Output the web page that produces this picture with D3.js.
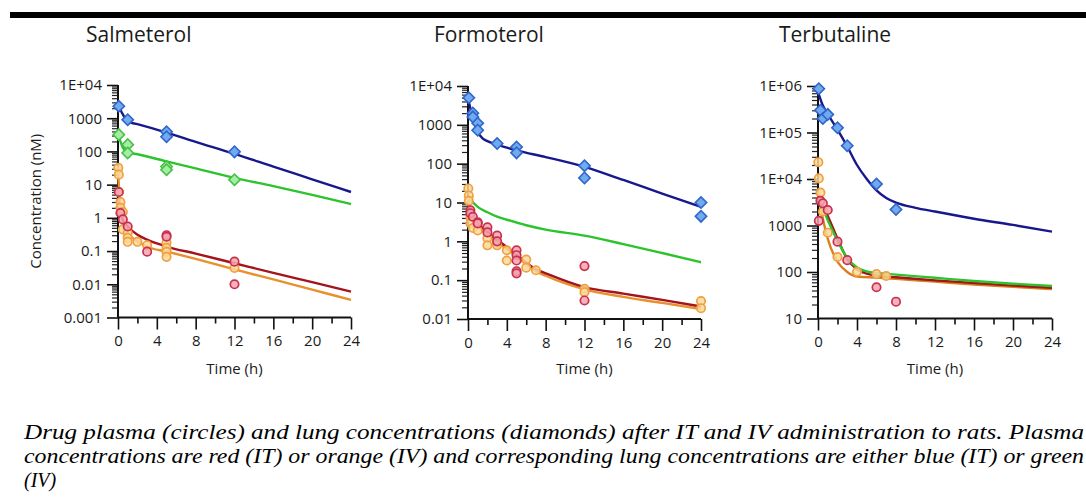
<!DOCTYPE html>
<html>
<head>
<meta charset="utf-8">
<script src="https://cdn.jsdelivr.net/npm/d3@7"></script>
<style>
  html, body { margin: 0; padding: 0; background: #ffffff; }
  svg { display: block; }
</style>
</head>
<body>
<svg id="chart" width="1086" height="497"></svg>
<script>
// ---------------- DATA ----------------
const panelTitles = ["Salmeterol", "Formoterol", "Terbutaline"];
const xTickValues = [0, 4, 8, 12, 16, 20, 24];
const xMinorTickValues = [2, 6, 10, 14, 18, 22];

const salYTicks = [1e4, 1000, 100, 10, 1, 0.1, 0.01, 0.001];
const salYLabels = ["1E+04", "1000", "100", "10", "1", "0.1", "0.01", "0.001"];
const forYTicks = [1e4, 1000, 100, 10, 1, 0.1, 0.01];
const forYLabels = ["1E+04", "1000", "100", "10", "1", "0.1", "0.01"];
const terYTicks = [1e6, 1e5, 1e4, 1000, 100, 10];
const terYLabels = ["1E+06", "1E+05", "1E+04", "1000", "100", "10"];

// Salmeterol observations [time h, conc nM]
const salLungIT = [[0.083,2300],[1,900],[5,390],[5,275],[12,97]];
const salLungIV = [[0.083,320],[1,160],[1,90],[5,35],[5,28],[12,14]];
const salPlasmaIT = [[0.083,6],[0.25,1.4],[0.5,0.9],[1,0.55],[3,0.096],[5,0.3],[5,0.27],[12,0.048],[12,0.01]];
const salPlasmaIV = [[0.033,32],[0.083,20],[0.083,6],[0.25,3],[0.25,2],[0.5,1.5],[0.5,0.45],[1,0.35],[1,0.25],[1,0.19],
  [2,0.19],[3,0.15],[5,0.18],[5,0.125],[5,0.095],[5,0.067],[12,0.031]];
// Salmeterol model fits
const salLungITFit = [[0,2500],[0.5,1300],[1,790],[2,660],[5,370],[8,195],[12,85],[16,35],[20,14.5],[24,6]];
const salLungIVFit = [[0,320],[0.25,200],[0.5,130],[1,93],[2,82],[5,50],[8,31],[12,16],[16,9],[20,4.9],[24,2.6]];
const salPlasmaITFit = [[0,4],[0.25,1.6],[0.5,0.85],[1,0.55],[2,0.31],[3,0.22],[5,0.137],[8,0.084],[12,0.043],[16,0.022],[20,0.0116],[24,0.006]];
const salPlasmaIVFit = [[0,35],[0.1,8],[0.25,2.2],[0.5,0.75],[1,0.36],[2,0.2],[3,0.135],[5,0.097],[8,0.058],[12,0.028],[16,0.014],[20,0.0069],[24,0.0034]];

// Formoterol observations
const forLungIT = [[0.083,5000],[0.5,2000],[0.5,1600],[1,1100],[1,730],[3,330],[5,270],[5,190],[12,88],[12,43],[24,10],[24,4.4]];
const forLungIV = [];
const forPlasmaIT = [[0.25,6.3],[0.25,5.3],[0.5,4.3],[1,3.1],[1,2.9],[2,2.3],[2,1.7],[3,1.4],[3,1.0],[5,0.59],[5,0.44],[5,0.32],[5,0.17],[5,0.15],[12,0.23],[12,0.03]];
const forPlasmaIV = [[0.033,23],[0.083,15],[0.083,11],[0.25,4.2],[0.25,2.9],[0.5,2.2],[1,1.9],[2,1.2],[2,0.79],[3,0.87],[3,0.79],
  [4,0.59],[4,0.32],[6,0.34],[6,0.21],[7,0.18],[12,0.06],[12,0.049],[24,0.029],[24,0.019]];
// Formoterol model fits
const forLungITFit = [[0,5000],[0.25,2600],[0.5,1500],[1,650],[1.5,450],[2,380],[3,310],[5,220],[8,148],[12,83],[16,38],[20,17],[24,7.7]];
const forLungIVFit = [[0,13],[0.5,10],[1,7.7],[2,5.6],[3,4.3],[4,3.6],[6,2.6],[8,2],[12,1.4],[16,0.85],[20,0.5],[24,0.29]];
const forPlasmaITFit = [[0,7],[0.5,4],[1,2.9],[2,1.74],[3,1.1],[4,0.71],[5,0.45],[7,0.19],[8,0.15],[12,0.066],[16,0.045],[20,0.031],[24,0.021]];
const forPlasmaIVFit = [[0,12],[0.5,3.5],[1,2.5],[2,1.5],[3,0.95],[4,0.63],[5,0.4],[7,0.17],[8,0.13],[12,0.058],[16,0.037],[20,0.026],[24,0.018]];

// Terbutaline observations
const terLungIT = [[0.083,870000],[0.25,300000],[0.5,200000],[1,245000],[2,126000],[3,52000],[6,7800],[8,2200]];
const terLungIV = [];
const terPlasmaIT = [[0.083,1260],[0.25,3400],[0.5,3000],[1,2150],[2,450],[3,180],[6,47],[8,23]];
const terPlasmaIV = [[0.033,23000],[0.083,10300],[0.25,5100],[0.5,2000],[1,700],[2,210],[4,101],[6,90],[7,82]];
// Terbutaline model fits
const terLungITFit = [[0,750000],[0.5,380000],[1,250000],[2,115000],[3,50000],[4,20000],[5,10000],[6,5700],[7,3900],[8,3100],[10,2400],[12,2000],[16,1400],[20,1030],[24,740]];
const terLungIVFit = [[0,3000],[0.5,2300],[1,1300],[2,470],[3,200],[4,125],[5,103],[6,95],[8,88],[12,75],[16,64],[20,56],[24,50]];
const terPlasmaITFit = [[0,3200],[0.5,2600],[1,1600],[2,520],[3,190],[4,115],[5,92],[6,83],[8,77],[12,66],[16,58],[20,51],[24,46]];
const terPlasmaIVFit = [[0,5400],[0.5,1400],[1,520],[2,166],[3,100],[4,80],[6,76],[8,71],[12,62],[16,54],[20,48],[24,43]];

const captionLines = [
  "Drug plasma (circles) and lung concentrations (diamonds) after IT and IV administration to rats. Plasma",
  "concentrations are red (IT) or orange (IV) and corresponding lung concentrations are either blue (IT) or green",
  "(IV)"
];

// ---------------- STYLE / LAYOUT ----------------
const C = {
  blueLine: "#16188c", greenLine: "#2cc42c", redLine: "#a3141c", orangeLine: "#e8902c",
  blueFill: "#72aaf0", blueStroke: "#2f66cc",
  greenFill: "#a4eea4", greenStroke: "#46c046",
  redFill: "#f3a3b0", redStroke: "#c8304c",
  orangeFill: "#fcd89c", orangeStroke: "#f0a040"
};

const panels = [
  { title: panelTitles[0], titleX: 86, x0: 118, x1: 351, yTop: 85, yBot: 317.5, domain: [0.001, 1e4],
    yTicks: salYTicks, yLabels: salYLabels,
    fits: [[salPlasmaIVFit, C.orangeLine], [salPlasmaITFit, C.redLine], [salLungIVFit, C.greenLine], [salLungITFit, C.blueLine]],
    circles: [[salPlasmaIV, C.orangeFill, C.orangeStroke], [salPlasmaIT, C.redFill, C.redStroke]],
    diamonds: [[salLungIV, C.greenFill, C.greenStroke], [salLungIT, C.blueFill, C.blueStroke]],
    yLabel: true, orangeLineColor: C.orangeLine },
  { title: panelTitles[1], titleX: 434, x0: 468, x1: 701, yTop: 86, yBot: 319, domain: [0.01, 1e4],
    yTicks: forYTicks, yLabels: forYLabels,
    fits: [[forPlasmaIVFit, C.orangeLine], [forPlasmaITFit, C.redLine], [forLungIVFit, C.greenLine], [forLungITFit, C.blueLine]],
    circles: [[forPlasmaIV, C.orangeFill, C.orangeStroke], [forPlasmaIT, C.redFill, C.redStroke]],
    diamonds: [[forLungIV, C.greenFill, C.greenStroke], [forLungIT, C.blueFill, C.blueStroke]],
    yLabel: false },
  { title: panelTitles[2], titleX: 779, x0: 818, x1: 1052, yTop: 86, yBot: 318.5, domain: [10, 1e6],
    yTicks: terYTicks, yLabels: terYLabels,
    fits: [[terPlasmaIVFit, "#d8801e"], [terPlasmaITFit, C.redLine], [terLungIVFit, C.greenLine], [terLungITFit, C.blueLine]],
    circles: [[terPlasmaIV, C.orangeFill, C.orangeStroke], [terPlasmaIT, C.redFill, C.redStroke]],
    diamonds: [[terLungIV, C.greenFill, C.greenStroke], [terLungIT, C.blueFill, C.blueStroke]],
    yLabel: false }
];

const FONT = "'Open Sans', 'Noto Sans', sans-serif";
const svg = d3.select("#chart");

// top black rule
svg.append("rect").attr("x", 10).attr("y", 12).attr("width", 1076).attr("height", 6).attr("fill", "#000");

panels.forEach(p => {
  const g = svg.append("g");
  const x = d3.scaleLinear().domain([0, 24]).range([p.x0, p.x1]);
  const y = d3.scaleLog().domain(p.domain).range([p.yBot, p.yTop]);

  // title
  g.append("text").attr("x", p.titleX).attr("y", 42)
    .attr("font-family", FONT).attr("font-size", 21).attr("fill", "#1a1a1a").text(p.title);

  // minor y ticks (2..9 in each decade)
  const minorY = [];
  const lo = Math.round(Math.log10(p.domain[0])), hi = Math.round(Math.log10(p.domain[1]));
  for (let e = lo; e < hi; e++) for (let k = 2; k <= 9; k++) minorY.push(k * Math.pow(10, e));
  const yMinorAxis = d3.axisLeft(y).tickValues(minorY).tickSize(6).tickFormat("");
  const gym = g.append("g").attr("transform", `translate(${p.x0},0)`).call(yMinorAxis);
  gym.select(".domain").remove();
  gym.selectAll("line").attr("stroke", "#222").attr("stroke-width", 1.2);

  const yAxis = d3.axisLeft(y).tickValues(p.yTicks).tickSize(11).tickPadding(5)
    .tickFormat((d, i) => p.yLabels[i]);
  const gy = g.append("g").attr("transform", `translate(${p.x0},0)`).call(yAxis);
  gy.select(".domain").attr("stroke", "#111").attr("stroke-width", 2).attr("d", `M0,${p.yTop}V${p.yBot}`);
  gy.selectAll(".tick line").attr("stroke", "#111").attr("stroke-width", 1.6);
  gy.selectAll("text").attr("font-family", FONT).attr("font-size", 15).attr("fill", "#1a1a1a");

  // x axis
  const xMinorAxis = d3.axisBottom(x).tickValues(xMinorTickValues).tickSize(6).tickFormat("");
  const gxm = g.append("g").attr("transform", `translate(0,${p.yBot})`).call(xMinorAxis);
  gxm.select(".domain").remove();
  gxm.selectAll("line").attr("stroke", "#111").attr("stroke-width", 1.6);

  const xAxis = d3.axisBottom(x).tickValues(xTickValues).tickSize(12).tickPadding(6).tickFormat(d3.format("d"));
  const gx = g.append("g").attr("transform", `translate(0,${p.yBot})`).call(xAxis);
  gx.select(".domain").attr("stroke", "#111").attr("stroke-width", 2).attr("d", `M${p.x0},0H${p.x1}`);
  gx.selectAll(".tick line").attr("stroke", "#111").attr("stroke-width", 1.6);
  gx.selectAll("text").attr("font-family", FONT).attr("font-size", 15).attr("fill", "#1a1a1a");

  // x label
  g.append("text").attr("x", (p.x0 + p.x1) / 2).attr("y", 374).attr("text-anchor", "middle")
    .attr("font-family", FONT).attr("font-size", 15).attr("fill", "#1a1a1a").text("Time (h)");

  if (p.yLabel) {
    g.append("text").attr("transform", `translate(41,${(p.yTop + p.yBot) / 2}) rotate(-90)`)
      .attr("text-anchor", "middle").attr("font-family", FONT).attr("font-size", 15).attr("fill", "#1a1a1a")
      .text("Concentration (nM)");
  }

  // fitted lines
  const line = d3.line().x(d => x(d[0])).y(d => y(d[1])).curve(d3.curveMonotoneX);
  p.fits.forEach(([data, color]) => {
    g.append("path").datum(data).attr("d", line).attr("fill", "none")
      .attr("stroke", color).attr("stroke-width", 2.4).attr("stroke-linejoin", "round");
  });

  // circles (plasma)
  p.circles.forEach(([data, fill, stroke]) => {
    g.append("g").selectAll("circle").data(data).join("circle")
      .attr("cx", d => x(d[0])).attr("cy", d => y(d[1])).attr("r", 4.2)
      .attr("fill", fill).attr("fill-opacity", 0.85).attr("stroke", stroke).attr("stroke-width", 1.7);
  });

  // diamonds (lung)
  const diamond = d3.symbol().type(d3.symbolSquare).size(64);
  p.diamonds.forEach(([data, fill, stroke]) => {
    g.append("g").selectAll("path").data(data).join("path")
      .attr("d", diamond)
      .attr("transform", d => `translate(${x(d[0])},${y(d[1])}) rotate(45)`)
      .attr("fill", fill).attr("stroke", stroke).attr("stroke-width", 1.6);
  });
});

// caption
const capG = svg.append("g").attr("font-family", "'Liberation Serif', 'Times New Roman', serif")
  .attr("font-style", "italic").attr("font-size", 20).attr("fill", "#000");
const capY = [439, 463, 487];
captionLines.forEach((t, i) => {
  const txt = capG.append("text").attr("x", 24).attr("y", capY[i]).text(t);
  if (i < 2) txt.attr("textLength", 1060).attr("lengthAdjust", "spacingAndGlyphs");
});
</script>
</body>
</html>
